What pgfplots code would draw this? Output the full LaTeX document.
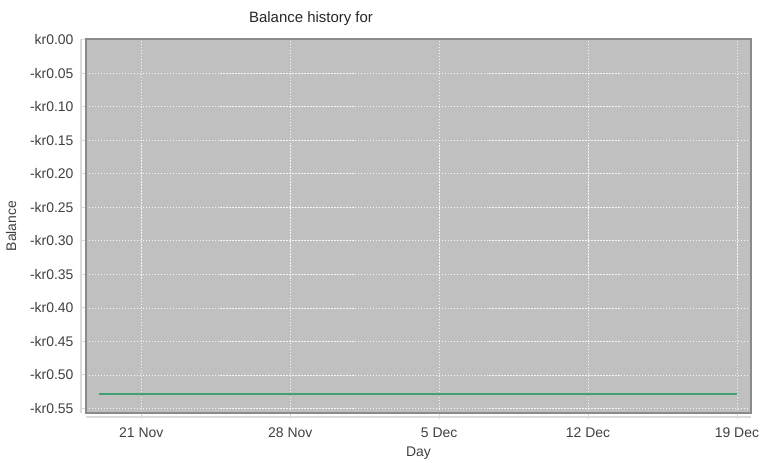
\documentclass[border=0pt]{standalone}
\usepackage{fontspec}
\setmainfont{Liberation Sans}
\usepackage{pgfplots}
\pgfplotsset{compat=1.18}

\definecolor{plotbg}{HTML}{C0C0C0}
\definecolor{plotframe}{HTML}{8A8A8A}
\definecolor{greenline}{RGB}{63,162,110}
\definecolor{axisgray}{HTML}{DADADA}
\definecolor{textgray}{HTML}{404040}

\begin{document}
\begin{tikzpicture}
  \path[use as bounding box] (0,0) rectangle (763bp,463bp);
  % detached axis lines (JFreeChart style)
  \draw[axisgray, line width=1.2pt] (81bp,50bp) -- (81bp,424bp);
  \draw[axisgray, line width=1.2pt] (86bp,46bp) -- (751bp,46bp);
  \begin{axis}[
    at={(86bp,50bp)}, anchor=south west,
    scale only axis,
    width=665bp, height=374bp,
    xmin=-2.6, xmax=28.66,
    ymin=-0.557, ymax=0.001,
    axis background/.style={fill=plotbg},
    axis line style={plotframe, line width=1.2pt},
    grid=major,
    major grid style={white!85!plotbg, line width=0.5pt, dash pattern=on 1.5pt off 1.5pt},
    tick pos=left,
    tick align=outside,
    major tick length=6bp,
    tick style={axisgray, line width=0.8pt},
    xtick={0,7,14,21,28},
    xticklabels={21 Nov, 28 Nov, 5 Dec, 12 Dec, 19 Dec},
    ytick={0,-0.05,-0.10,-0.15,-0.20,-0.25,-0.30,-0.35,-0.40,-0.45,-0.50,-0.55},
    yticklabels={kr0.00,-kr0.05,-kr0.10,-kr0.15,-kr0.20,-kr0.25,-kr0.30,-kr0.35,-kr0.40,-kr0.45,-kr0.50,-kr0.55},
    ticklabel style={font=\fontsize{14}{16}\selectfont, text=textgray},
    xticklabel style={yshift=-5bp},
    yticklabel style={xshift=-3bp},
    xlabel={Day},
    ylabel={Balance},
    label style={font=\fontsize{14}{16}\selectfont, text=textgray},
    xlabel style={yshift=-3bp},
    ylabel style={yshift=7bp},
  ]
    % balance per day, 19 Nov to 19 Dec
    \addplot[color=greenline, solid, line width=2pt, mark=none] coordinates {
      (-2,-0.528) (5,-0.528) (12,-0.528) (19,-0.528) (28,-0.528)
    };
  \end{axis}
  \node[font=\fontsize{15}{17}\selectfont, text=black!85, anchor=base] at (311bp,440bp) {Balance history for};
\end{tikzpicture}
\end{document}
